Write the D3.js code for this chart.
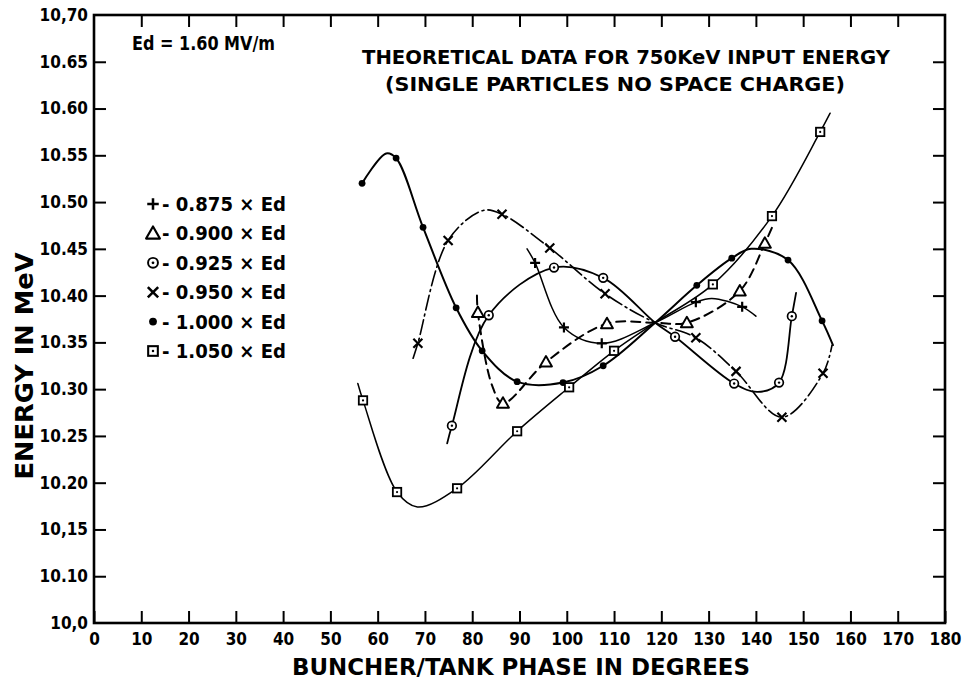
<!DOCTYPE html>
<html>
<head>
<meta charset="utf-8">
<script src="https://cdn.jsdelivr.net/npm/d3@7"></script>
<style>
  html, body { margin: 0; padding: 0; background: #fff; }
  svg { display: block; }
  text { font-family: "DejaVu Sans", sans-serif; font-weight: bold; fill: #000; }
  .tick text { font-family: "DejaVu Sans Condensed", "DejaVu Sans", sans-serif; }
</style>
</head>
<body>
<svg id="chart" width="972" height="683"></svg>
<script>
// ---- axis ticks ----
const phaseTicks = [0, 10, 20, 30, 40, 50, 60, 70, 80, 90, 100, 110, 120, 130, 140, 150, 160, 170, 180];
const energyTicks = [10.05, 10.10, 10.15, 10.20, 10.25, 10.30, 10.35, 10.40, 10.45, 10.50, 10.55, 10.60, 10.65, 10.70];
const energyTickLabels = ["10,0", "10.10", "10,15", "10.20", "10.25", "10.30", "10.35", "10.40", "10.45", "10.50", "10.55", "10.60", "10.65", "10,70"];

// ---- computed runs: [phase (deg), energy (MeV), plotted point 1 / curve only 0] ----
const run0875 = [
  [91.6, 10.450, 0], [93.3, 10.435, 1], [99.4, 10.366, 1], [107.4, 10.349, 1],
  [118.7, 10.371, 0], [127.3, 10.393, 1], [130.7, 10.397, 0], [137.1, 10.388, 1], [140.0, 10.378, 0]
];
const run0900 = [
  [81.0, 10.400, 0], [81.2, 10.382, 1], [84.2, 10.304, 0], [86.5, 10.285, 1], [95.6, 10.329, 1],
  [108.5, 10.370, 1], [118.7, 10.371, 0], [125.4, 10.371, 1], [136.6, 10.405, 1], [141.9, 10.456, 1], [143.6, 10.475, 0]
];
const run0925 = [
  [74.7, 10.242, 0], [75.7, 10.261, 1], [83.5, 10.379, 1], [97.3, 10.430, 1], [107.7, 10.419, 1],
  [118.7, 10.371, 0], [122.9, 10.356, 1], [135.4, 10.306, 1], [140.4, 10.297, 0], [144.9, 10.307, 1],
  [147.6, 10.378, 1], [148.5, 10.403, 0]
];
const run0950 = [
  [67.5, 10.333, 0], [68.5, 10.349, 1], [74.9, 10.459, 1], [82.3, 10.491, 0], [86.3, 10.487, 1],
  [96.4, 10.451, 1], [108.1, 10.402, 1], [118.7, 10.371, 0], [127.3, 10.355, 1], [135.8, 10.319, 1],
  [145.5, 10.270, 1], [154.2, 10.317, 1], [156.1, 10.347, 0]
];
const run1000 = [
  [56.7, 10.520, 1], [61.8, 10.552, 0], [63.9, 10.547, 1], [69.6, 10.473, 1], [76.6, 10.387, 1],
  [82.1, 10.341, 1], [89.5, 10.308, 1], [99.2, 10.307, 1], [107.7, 10.325, 1], [118.7, 10.371, 0],
  [127.5, 10.411, 1], [134.9, 10.440, 1], [139.0, 10.450, 0], [146.8, 10.438, 1], [154.0, 10.373, 1], [156.3, 10.347, 0]
];
const run1050 = [
  [55.8, 10.306, 0], [56.9, 10.288, 1], [64.1, 10.190, 1], [68.4, 10.174, 0], [76.8, 10.194, 1],
  [89.5, 10.255, 1], [100.5, 10.302, 1], [110.0, 10.341, 1], [118.7, 10.371, 0], [130.9, 10.412, 1],
  [143.4, 10.485, 1], [153.6, 10.575, 1], [155.7, 10.595, 0]
];

const runFactors = ["0.875", "0.900", "0.925", "0.950", "1.000", "1.050"];
const runs = [run0875, run0900, run0925, run0950, run1000, run1050];

// drawing style per run
const runStyle = [
  { marker: "plus", width: 1.5, dash: null },
  { marker: "tri",  width: 2.0, dash: "9,6" },
  { marker: "circ", width: 1.8, dash: null },
  { marker: "x",    width: 1.6, dash: "15,4,2,4" },
  { marker: "dot",  width: 2.0, dash: null },
  { marker: "sq",   width: 1.5, dash: null }
];

const svg = d3.select("#chart");
const x = d3.scaleLinear().domain([0, 180]).range([94, 945]);
const y = d3.scaleLinear().domain([10.05, 10.70]).range([623, 15]);

// ---- frame ----
svg.append("rect")
  .attr("x", x(0)).attr("y", y(10.70))
  .attr("width", x(180) - x(0)).attr("height", y(10.05) - y(10.70))
  .attr("fill", "none").attr("stroke", "#000").attr("stroke-width", 2.6);

function styleAxis(g, size) {
  g.select(".domain").remove();
  g.attr("font-size", size);
  g.selectAll(".tick line").attr("stroke", "#000").attr("stroke-width", 2);
}

const gBottom = svg.append("g").attr("transform", `translate(0,${y(10.05)})`)
  .call(d3.axisBottom(x).tickValues(phaseTicks).tickFormat(d => d).tickSize(-12).tickSizeOuter(0).tickPadding(10));
styleAxis(gBottom, 17);

const gTop = svg.append("g").attr("transform", `translate(0,${y(10.70)})`)
  .call(d3.axisTop(x).tickValues(phaseTicks.slice(1, -1)).tickFormat("").tickSize(-12).tickSizeOuter(0));
styleAxis(gTop, 17);

const gLeft = svg.append("g").attr("transform", `translate(${x(0)},0)`)
  .call(d3.axisLeft(y).tickValues(energyTicks).tickFormat((d, i) => energyTickLabels[i]).tickSize(-12).tickSizeOuter(0).tickPadding(6));
styleAxis(gLeft, 17);
gLeft.selectAll(".tick").filter(d => d === 10.05 || d === 10.70).select("line").remove();

const gRight = svg.append("g").attr("transform", `translate(${x(180)},0)`)
  .call(d3.axisRight(y).tickValues(energyTicks.slice(1, -1)).tickFormat("").tickSize(-12).tickSizeOuter(0));
styleAxis(gRight, 17);

// ---- markers ----
function drawMarker(g, type, cx, cy, s) {
  const k = s || 1;
  if (type === "plus") {
    g.append("path").attr("d", `M${cx - 5 * k},${cy}H${cx + 5 * k}M${cx},${cy - 5 * k}V${cy + 5 * k}`)
      .attr("stroke", "#000").attr("stroke-width", 2.2 * k).attr("fill", "none");
  } else if (type === "x") {
    g.append("path").attr("d", `M${cx - 4.5 * k},${cy - 4.5 * k}L${cx + 4.5 * k},${cy + 4.5 * k}M${cx + 4.5 * k},${cy - 4.5 * k}L${cx - 4.5 * k},${cy + 4.5 * k}`)
      .attr("stroke", "#000").attr("stroke-width", 2.2 * k).attr("fill", "none");
  } else if (type === "tri") {
    g.append("path").attr("d", `M${cx},${cy - 6 * k}L${cx + 6 * k},${cy + 4.5 * k}L${cx - 6 * k},${cy + 4.5 * k}Z`)
      .attr("stroke", "#000").attr("stroke-width", 1.9 * k).attr("fill", "#fff").attr("stroke-linejoin", "round");
  } else if (type === "circ") {
    g.append("circle").attr("cx", cx).attr("cy", cy).attr("r", 4.3 * k)
      .attr("stroke", "#000").attr("stroke-width", 1.7 * k).attr("fill", "#fff");
    g.append("circle").attr("cx", cx).attr("cy", cy).attr("r", 1.2 * k).attr("fill", "#000");
  } else if (type === "dot") {
    g.append("circle").attr("cx", cx).attr("cy", cy).attr("r", 3.4 * k).attr("fill", "#000");
  } else if (type === "sq") {
    g.append("rect").attr("x", cx - 4.2 * k).attr("y", cy - 4.2 * k).attr("width", 8.4 * k).attr("height", 8.4 * k)
      .attr("stroke", "#000").attr("stroke-width", 1.8 * k).attr("fill", "#fff");
    g.append("circle").attr("cx", cx).attr("cy", cy).attr("r", 1.1 * k).attr("fill", "#000");
  }
}

// ---- curves ----
const line = d3.line()
  .x(d => x(d[0]))
  .y(d => y(d[1]))
  .curve(d3.curveCatmullRom.alpha(0.5));

const gCurves = svg.append("g");
runs.forEach((run, i) => {
  const st = runStyle[i];
  gCurves.append("path")
    .attr("d", line(run))
    .attr("fill", "none")
    .attr("stroke", "#000")
    .attr("stroke-width", st.width)
    .attr("stroke-dasharray", st.dash)
    .attr("stroke-linecap", "round");
});

const gMarks = svg.append("g");
runs.forEach((run, i) => {
  run.filter(d => d[2] === 1).forEach(d => drawMarker(gMarks, runStyle[i].marker, x(d[0]), y(d[1]), 1));
});

// ---- legend ----
const gLegend = svg.append("g");
runFactors.forEach((f, i) => {
  const base = 211 + i * 29.4;
  drawMarker(gLegend, runStyle[i].marker, 153, base - 7, 1.15);
  gLegend.append("text")
    .attr("x", 162).attr("y", base)
    .attr("font-size", 19)
    .attr("textLength", 124).attr("lengthAdjust", "spacingAndGlyphs")
    .text(`- ${f} × Ed`);
});

// ---- annotations ----
svg.append("text").attr("x", 132).attr("y", 50).attr("font-size", 19)
  .attr("textLength", 143).attr("lengthAdjust", "spacingAndGlyphs")
  .text("Ed = 1.60 MV/m");

svg.append("text").attr("x", 626).attr("y", 64).attr("text-anchor", "middle").attr("font-size", 20)
  .attr("textLength", 528).attr("lengthAdjust", "spacingAndGlyphs")
  .text("THEORETICAL DATA FOR 750KeV INPUT ENERGY");

svg.append("text").attr("x", 615).attr("y", 91).attr("text-anchor", "middle").attr("font-size", 20)
  .attr("textLength", 460).attr("lengthAdjust", "spacingAndGlyphs")
  .text("(SINGLE PARTICLES NO SPACE CHARGE)");

// ---- axis titles ----
svg.append("text").attr("transform", "translate(33,366) rotate(-90)")
  .attr("text-anchor", "middle").attr("font-size", 25)
  .attr("textLength", 227).attr("lengthAdjust", "spacingAndGlyphs")
  .text("ENERGY IN MeV");

svg.append("text").attr("x", 521).attr("y", 675)
  .attr("text-anchor", "middle").attr("font-size", 23)
  .attr("textLength", 458).attr("lengthAdjust", "spacingAndGlyphs")
  .text("BUNCHER/TANK PHASE IN DEGREES");
</script>
</body>
</html>
